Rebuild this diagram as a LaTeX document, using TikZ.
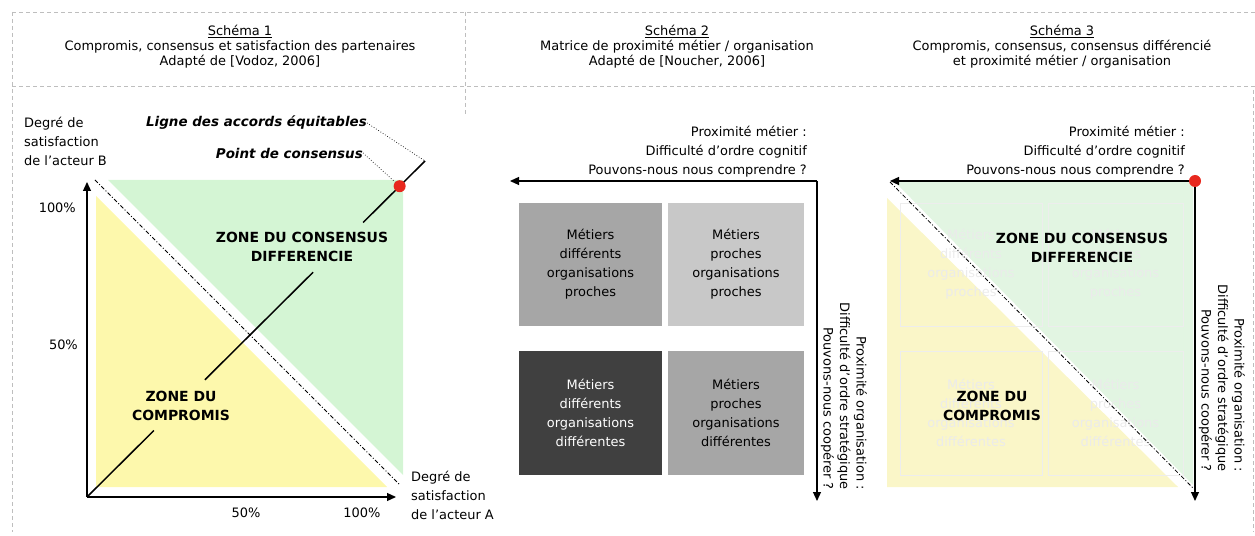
\documentclass[tikz,border=0pt]{standalone}
\usepackage{fontspec}
\setmainfont{DejaVu Sans}
\usetikzlibrary{arrows.meta,calc}
\definecolor{zgreen}{RGB}{212,245,212}
\definecolor{zyellow}{RGB}{253,248,172}
\definecolor{lgreen}{RGB}{226,245,226}
\definecolor{lyellow}{RGB}{250,246,200}
\definecolor{framegray}{RGB}{190,190,190}
\definecolor{boxmid}{RGB}{166,166,166}
\definecolor{boxlight}{RGB}{200,200,200}
\definecolor{boxdark}{RGB}{64,64,64}
\definecolor{dotred}{RGB}{232,40,30}
\begin{document}
\begin{tikzpicture}[x=1bp,y=-1bp,
  txt/.style={font=\fontsize{13}{15}\selectfont, inner sep=0pt, align=center},
  txtr/.style={font=\fontsize{13}{19}\selectfont, inner sep=0pt, align=right},
  vtxt/.style={font=\fontsize{13}{16.5}\selectfont, inner sep=0pt, align=right, rotate=-90, anchor=east},
  zone/.style={font=\fontsize{14}{19}\selectfont\bfseries, inner sep=0pt, align=center},
  lbl/.style={font=\fontsize{13.5}{15}\selectfont\bfseries\itshape, inner sep=0pt},
  axtxt/.style={font=\fontsize{13}{19}\selectfont, inner sep=0pt, align=left},
  frame/.style={draw=framegray, dash pattern=on 4bp off 3bp, line width=0.8bp},
  axis/.style={line width=1.2bp, -{Triangle[length=9bp,width=8bp]}},
  eqline/.style={line width=1.5bp},
  dashdot/.style={line width=0.8bp, dash pattern=on 4bp off 2bp on 1bp off 2bp},
  leader/.style={line width=0.7bp, dotted},
  mbox/.style={inner sep=0pt, align=center, font=\fontsize{13}{19}\selectfont},
  ghost/.style={draw=black!7, inner sep=0pt, align=center, text=black!8, font=\fontsize{13}{19}\selectfont},
  reddot/.style={circle, fill=dotred, inner sep=0pt, minimum size=12bp}
]
\useasboundingbox (0,0) rectangle (1255,536);
% ---------- frame ----------
\draw[frame] (12,12) -- (1255,12);
\draw[frame] (12,86) -- (1255,86);
\draw[frame] (12,12) -- (12,532);
\draw[frame] (465,12) -- (465,115);
\draw[frame] (1253,90) -- (1253,532);
% ---------- headers ----------
\node[txt] (h1) at (240,47) {\underline{Schéma 1}\\Compromis, consensus et satisfaction des partenaires\\Adapté de [Vodoz, 2006]};
\node[txt] (h2) at (677,47) {\underline{Schéma 2}\\Matrice de proximité métier / organisation\\Adapté de [Noucher, 2006]};
\node[txt] (h3) at (1062,47) {\underline{Schéma 3}\\Compromis, consensus, consensus différencié\\et proximité métier / organisation};
% ---------- diagram 1 ----------
\fill[zgreen] (108,180) -- (403,180) -- (403,475) -- cycle;
\fill[zyellow] (96,196) -- (96,487) -- (387,487) -- cycle;
\draw[dashdot] (95,180) -- (400,485);
\coordinate (O1) at (87,497);
\coordinate (Ytip) at (87,182);
\coordinate (Xtip) at (396,497);
\draw[axis] (O1) -- (Ytip);
\draw[axis] (O1) -- (Xtip);
\coordinate (E1) at (425,161);
\node[zone] (cons1) at (302,247) {ZONE DU CONSENSUS\\DIFFERENCIE};
\node[zone] (comp1) at (181,406) {ZONE DU\\COMPROMIS};
\draw[eqline] (O1) -- ($(O1)!0.198!(E1)$);
\draw[eqline] ($(O1)!0.349!(E1)$) -- ($(O1)!0.669!(E1)$);
\draw[eqline] ($(O1)!0.817!(E1)$) -- (E1);
\node[reddot] (dot1) at ($(O1)!0.925!(E1)$) {};
\node[lbl, anchor=east] (ligne) at (367,123) {Ligne des accords équitables};
\node[lbl, anchor=east] (point) at (363,153) {Point de consensus};
\draw[leader] (ligne.east) -- (E1);
\draw[leader] (point.east) -- (dot1);
\node[axtxt, anchor=north west] (ylab) at (24,117) {Degré de\\satisfaction\\de l’acteur B};
\node[axtxt, anchor=north west] (xlab) at (411,471) {Degré de\\satisfaction\\de l’acteur A};
\node[txt, anchor=east] (y100) at (76,208) {100\%};
\node[txt, anchor=east] (y50) at (78,345) {50\%};
\node[txt] (x50) at (246,513) {50\%};
\node[txt] (x100) at (362,513) {100\%};
% ---------- diagram 2 ----------
\coordinate (C2) at (817,181);
\draw[axis] (C2) -- (510,181);
\draw[axis] (C2) -- (817,501);
\node[txtr, anchor=east] (pm2) at (807,152) {Proximité métier :\\Difficulté d’ordre cognitif\\Pouvons-nous nous comprendre ?};
\node[vtxt] (po2) at (844,490) {Proximité organisation :\\Difficulté d’ordre stratégique\\Pouvons-nous coopérer ?};
\node[mbox, fill=boxmid, minimum width=143bp, minimum height=123bp] (b11) at (590.5,264.5) {Métiers\\différents\\organisations\\proches};
\node[mbox, fill=boxlight, minimum width=136bp, minimum height=123bp] (b12) at (736,264.5) {Métiers\\proches\\organisations\\proches};
\node[mbox, fill=boxdark, text=white, minimum width=143bp, minimum height=124bp] (b21) at (590.5,413) {Métiers\\différents\\organisations\\différentes};
\node[mbox, fill=boxmid, minimum width=136bp, minimum height=124bp] (b22) at (736,413) {Métiers\\proches\\organisations\\différentes};
% ---------- diagram 3 ----------
\fill[lgreen] (895,182) -- (1193,182) -- (1193,485) -- cycle;
\fill[lyellow] (887,198) -- (887,487) -- (1178,487) -- cycle;
\node[ghost, minimum width=142bp, minimum height=123bp] (g11) at (971,264.5) {Métiers\\différents\\organisations\\proches};
\node[ghost, minimum width=135bp, minimum height=123bp] (g12) at (1115.5,264.5) {Métiers\\proches\\organisations\\proches};
\node[ghost, minimum width=142bp, minimum height=124bp] (g21) at (971,413) {Métiers\\différents\\organisations\\différentes};
\node[ghost, minimum width=135bp, minimum height=124bp] (g22) at (1115.5,413) {Métiers\\proches\\organisations\\différentes};
\draw[dashdot] (890,182) -- (1193,488);
\coordinate (C3) at (1195,181);
\draw[axis] (C3) -- (890,181);
\draw[axis] (C3) -- (1195,501);
\node[reddot] (dot3) at (C3) {};
\node[txtr, anchor=east] (pm3) at (1185,152) {Proximité métier :\\Difficulté d’ordre cognitif\\Pouvons-nous nous comprendre ?};
\node[vtxt] (po3) at (1222,472) {Proximité organisation :\\Difficulté d’ordre stratégique\\Pouvons-nous coopérer ?};
\node[zone] (cons3) at (1082,248) {ZONE DU CONSENSUS\\DIFFERENCIE};
\node[zone] (comp3) at (992,406) {ZONE DU\\COMPROMIS};
\end{tikzpicture}
\end{document}
